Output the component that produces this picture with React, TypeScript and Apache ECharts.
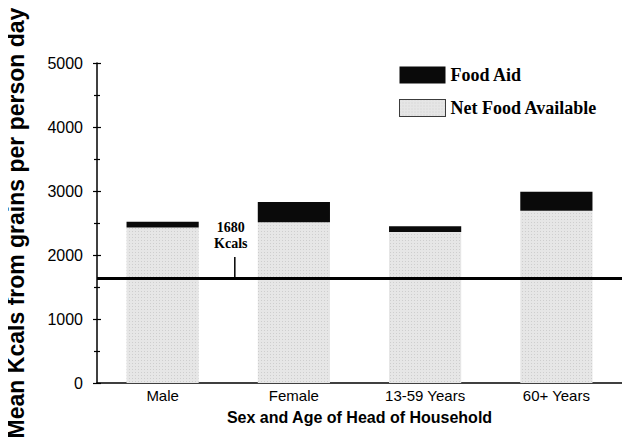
import React, { useEffect, useRef } from "react";
import * as echarts from "echarts";

const categories = ["Male", "Female", "13-59 Years", "60+ Years"];
const netFood = [2430, 2510, 2360, 2690];
const foodAid = [90, 320, 90, 300];
const thresholdValue = 1640;
const thresholdLabel = "1680\nKcals";
const yTicks = { min: 0, max: 5000, interval: 1000 };

export default function App() {
  const ref = useRef<HTMLDivElement>(null);
  useEffect(() => {
    const chart = echarts.init(ref.current!, null, { renderer: "svg" });
    const sans = "Liberation Sans, Arial, sans-serif";
    const serif = "Liberation Serif, Times New Roman, serif";
    chart.setOption({
      animation: false,
      backgroundColor: "#ffffff",
      grid: { left: 97, right: 8, top: 63, bottom: 65, containLabel: false, outerBoundsMode: "none" },
      legend: {
        orient: "vertical",
        left: 394,
        top: 61,
        itemWidth: 46,
        itemHeight: 17,
        itemGap: 15,
        itemTextGap: 3,
        icon: "rect",
        textStyle: { fontFamily: serif, fontWeight: "bold", fontSize: 18, color: "#000" },
        data: [
          { name: "Food Aid" },
          { name: "Net Food Available", itemStyle: { borderColor: "#000", borderWidth: 1, borderType: "dotted" } },
        ],
      },
      xAxis: {
        type: "category",
        data: categories,
        axisLine: { lineStyle: { color: "#000", width: 1.5 } },
        axisTick: { show: false },
        axisLabel: { color: "#000", fontFamily: sans, fontSize: 15, margin: 5 },
        name: "Sex and Age of Head of Household",
        nameLocation: "middle",
        nameGap: 26,
        nameTextStyle: { color: "#000", fontFamily: sans, fontWeight: "bold", fontSize: 16 },
      },
      yAxis: [
        {
          type: "value",
          ...yTicks,
          axisLine: { show: true, lineStyle: { color: "#000", width: 1.5 } },
          axisTick: { show: true, length: 4, lineStyle: { color: "#000", width: 1.2 } },
          minorTick: { show: true, splitNumber: 2, length: 3, lineStyle: { color: "#000", width: 1.2 } },
          splitLine: { show: false },
          axisLabel: { color: "#000", fontFamily: sans, fontSize: 16, margin: 14, formatter: (v: number) => String(v) },
          name: "Mean Kcals from grains per person day",
          nameLocation: "middle",
          nameGap: 70,
          nameRotate: 90,
          nameTextStyle: { color: "#000", fontFamily: sans, fontWeight: "bold", fontSize: 23 },
        },
        {
          type: "value",
          position: "left",
          ...yTicks,
          axisLine: { show: false },
          axisTick: { show: true, inside: true, length: 4, lineStyle: { color: "#000", width: 1.2 } },
          minorTick: { show: true, splitNumber: 2, length: 3, lineStyle: { color: "#000", width: 1.2 } },
          splitLine: { show: false },
          axisLabel: { show: false },
        },
      ],
      series: [
        {
          name: "Net Food Available",
          type: "bar",
          stack: "total",
          barWidth: "55%",
          data: netFood,
          itemStyle: {
            color: "#e6e6e6",
            decal: {
              symbol: "rect",
              symbolSize: 0.5,
              dashArrayX: [1, 2],
              dashArrayY: [1, 2],
              color: "rgba(70,70,70,0.6)",
              rotation: 0,
            },
          },
          markLine: {
            silent: true,
            symbol: "none",
            label: { show: false },
            lineStyle: { color: "#000", width: 3, type: "solid" },
            data: [{ yAxis: thresholdValue }],
          },
        },
        {
          name: "Food Aid",
          type: "bar",
          stack: "total",
          barWidth: "55%",
          data: foodAid,
          itemStyle: { color: "#0a0a0a" },
        },
      ],
    });
    // annotation placed between first and second category, tied to the threshold value
    const x0 = chart.convertToPixel({ xAxisIndex: 0 }, categories[0]) as number;
    const x1 = chart.convertToPixel({ xAxisIndex: 0 }, categories[1]) as number;
    const yLine = chart.convertToPixel({ yAxisIndex: 0 }, thresholdValue) as number;
    const ax = x0 + (x1 - x0) * 0.55;
    chart.setOption({
      graphic: [
        {
          type: "line",
          shape: { x1: ax, y1: yLine - 21, x2: ax, y2: yLine },
          style: { stroke: "#000", lineWidth: 1.5 },
          silent: true,
        },
        {
          type: "text",
          x: ax - 4,
          y: yLine - 43,
          style: {
            text: thresholdLabel,
            fill: "#000",
            font: "bold 14px " + serif,
            align: "center",
            verticalAlign: "middle",
            lineHeight: 16,
          },
          silent: true,
        },
      ],
    });
    return () => chart.dispose();
  }, []);
  return <div ref={ref} style={{ width: 630, height: 448, margin: -8 }} />;
}
